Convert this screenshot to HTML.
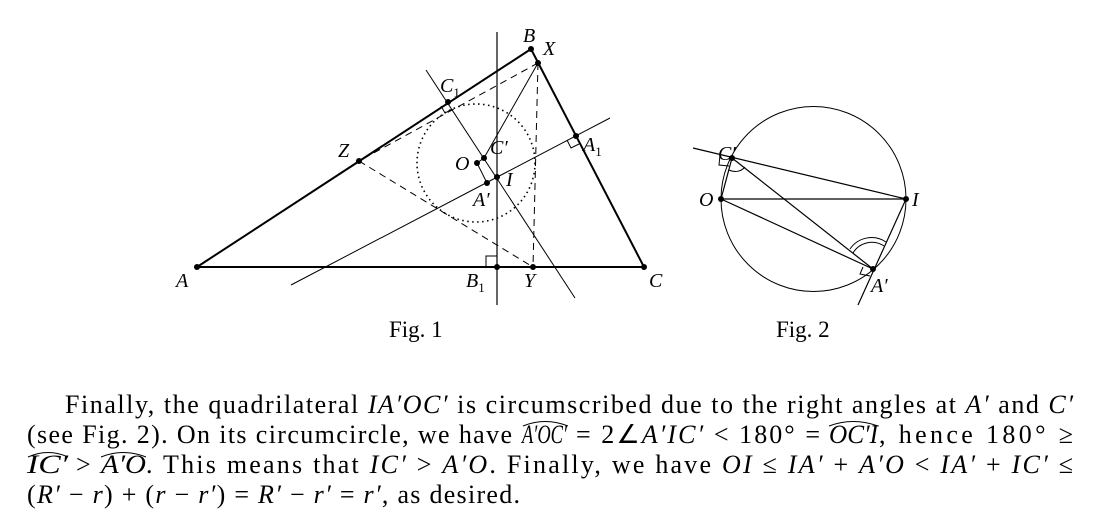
<!DOCTYPE html>
<html><head><style>
html,body{margin:0;padding:0;background:#fff;}
svg{display:block;}
text{font-family:"Liberation Serif",serif;fill:#000;}
.l{font-style:italic;font-size:20px;}
.t{font-size:26px;}
</style></head><body>
<svg width="1103" height="529" viewBox="0 0 1103 529" xmlns="http://www.w3.org/2000/svg">
<g stroke="#000" fill="none">
<polygon points="197,267 531,49 644,267" stroke-width="2"/>
<line x1="497" y1="32" x2="497" y2="305" stroke-width="1.2"/>
<line x1="426" y1="70" x2="575" y2="298" stroke-width="1"/>
<line x1="291" y1="285" x2="610" y2="118" stroke-width="1"/>
<line x1="538" y1="63" x2="484" y2="158" stroke-width="1"/>
<line x1="484" y1="158" x2="477" y2="163" stroke-width="1"/>
<line x1="477" y1="163" x2="487" y2="183" stroke-width="1"/>
<circle cx="476" cy="163" r="59" stroke-width="1.6" stroke-dasharray="1.5,3.5"/>
<g stroke-dasharray="7,5" stroke-width="1">
<line x1="538" y1="63" x2="359" y2="161"/>
<line x1="359" y1="161" x2="533" y2="267"/>
<line x1="538" y1="63" x2="533" y2="267"/>
</g>
<g stroke-width="1">
<polyline points="441,106 445,113 452,109"/>
<polyline points="567,140 571,148 579,144"/>
<polyline points="486,267 486,256 497,256"/>
</g>
<circle cx="813.5" cy="199" r="92.5" stroke-width="1"/>
<line x1="693" y1="148" x2="906" y2="199" stroke-width="1.2"/>
<line x1="721" y1="199" x2="906" y2="199" stroke-width="1.2"/>
<line x1="721" y1="199" x2="873" y2="269" stroke-width="1.2"/>
<line x1="732" y1="158" x2="873" y2="269" stroke-width="1.2"/>
<line x1="906" y1="199" x2="858" y2="305" stroke-width="1.2"/>
<line x1="721" y1="199" x2="732" y2="158" stroke-width="1.2"/>
<polyline points="720,155 719,165 729,166" stroke-width="1"/>
<polyline points="863,267 860,274 870,276" stroke-width="1"/>
<path d="M729,170 A13,13 0 0 0 745,167" stroke-width="1"/>
<path d="M853,253 A22,22 0 0 1 884,246" stroke-width="1"/>
<path d="M850,249 A26,26 0 0 1 886,242" stroke-width="1"/>
<path d="M523,426 Q545,417 568,426" stroke-width="1"/>
<path d="M829,426 Q853,417 878,426" stroke-width="1"/>
<path d="M28,457 Q48,448 68,457" stroke-width="1"/>
<path d="M101,457 Q123,448 146,457" stroke-width="1"/>
</g>
<g fill="#000">
<circle cx="197" cy="267" r="3"/><circle cx="531" cy="49" r="3"/><circle cx="644" cy="267" r="3"/>
<circle cx="538" cy="63" r="3"/><circle cx="448" cy="102" r="3"/><circle cx="359" cy="161" r="3"/>
<circle cx="576" cy="136" r="3"/><circle cx="497" cy="267" r="3"/><circle cx="533" cy="267" r="3"/>
<circle cx="477" cy="163" r="3"/><circle cx="484" cy="158" r="3"/><circle cx="497" cy="177" r="3"/>
<circle cx="487" cy="183" r="3"/>
<circle cx="732" cy="158" r="3"/><circle cx="721" cy="199" r="3"/><circle cx="906" cy="199" r="3"/><circle cx="873" cy="269" r="3"/>
</g>
<text class="l" x="523" y="42">B</text>
<text class="l" x="543" y="55">X</text>
<text class="l" x="440" y="92">C<tspan font-size="13" font-style="normal" dy="5">1</tspan></text>
<text class="l" x="338" y="157">Z</text>
<text class="l" x="583" y="151">A<tspan font-size="13" font-style="normal" dy="5">1</tspan></text>
<text class="l" x="490" y="154">C′</text>
<text class="l" x="455" y="170">O</text>
<text class="l" x="506" y="186">I</text>
<text class="l" x="473" y="206">A′</text>
<text class="l" x="176" y="287">A</text>
<text class="l" x="466" y="287">B<tspan font-size="13" font-style="normal" dy="5">1</tspan></text>
<text class="l" x="524" y="287">Y</text>
<text class="l" x="649" y="287">C</text>
<text x="389" y="337" style="font-size:23px">Fig. 1</text>
<text class="l" x="718" y="160">C′</text>
<text class="l" x="699" y="206">O</text>
<text class="l" x="912" y="206">I</text>
<text class="l" x="871" y="292">A′</text>
<text x="776" y="337" style="font-size:23px">Fig. 2</text>
<text class="t" x="65" y="413" textLength="1008" lengthAdjust="spacing">Finally, the quadrilateral <tspan font-style="italic">IA′OC′</tspan> is circumscribed due to the right angles at <tspan font-style="italic">A′</tspan> and <tspan font-style="italic">C′</tspan></text>
<text class="t" x="27" y="443" textLength="485" lengthAdjust="spacing">(see Fig. 2).  On its circumcircle, we have</text>
<text class="t" x="522" y="443" textLength="45" lengthAdjust="spacingAndGlyphs" font-style="italic">A′OC′</text>
<text class="t" x="576" y="443" textLength="244" lengthAdjust="spacing">= 2∠<tspan font-style="italic">A′IC′</tspan> &lt; 180° =</text>
<text class="t" x="829" y="443" textLength="49" lengthAdjust="spacingAndGlyphs" font-style="italic">OC′I</text>
<text class="t" x="879" y="443" textLength="194" lengthAdjust="spacing">, hence 180° ≥</text>
<text class="t" x="27" y="473" textLength="41" lengthAdjust="spacingAndGlyphs" font-style="italic">IC′</text>
<text class="t" x="76" y="473">&gt;</text>
<text class="t" x="101" y="473" textLength="45" lengthAdjust="spacingAndGlyphs" font-style="italic">A′O</text>
<text class="t" x="146" y="473" textLength="927" lengthAdjust="spacing">. This means that <tspan font-style="italic">IC′</tspan> &gt; <tspan font-style="italic">A′O</tspan>. Finally, we have <tspan font-style="italic">OI</tspan> ≤ <tspan font-style="italic">IA′</tspan> + <tspan font-style="italic">A′O</tspan> &lt; <tspan font-style="italic">IA′</tspan> + <tspan font-style="italic">IC′</tspan> ≤</text>
<text class="t" x="27" y="503" textLength="493" lengthAdjust="spacing">(<tspan font-style="italic">R′</tspan> − <tspan font-style="italic">r</tspan>) + (<tspan font-style="italic">r</tspan> − <tspan font-style="italic">r′</tspan>) = <tspan font-style="italic">R′</tspan> − <tspan font-style="italic">r′</tspan> = <tspan font-style="italic">r′</tspan>, as desired.</text>
</svg>
</body></html>
